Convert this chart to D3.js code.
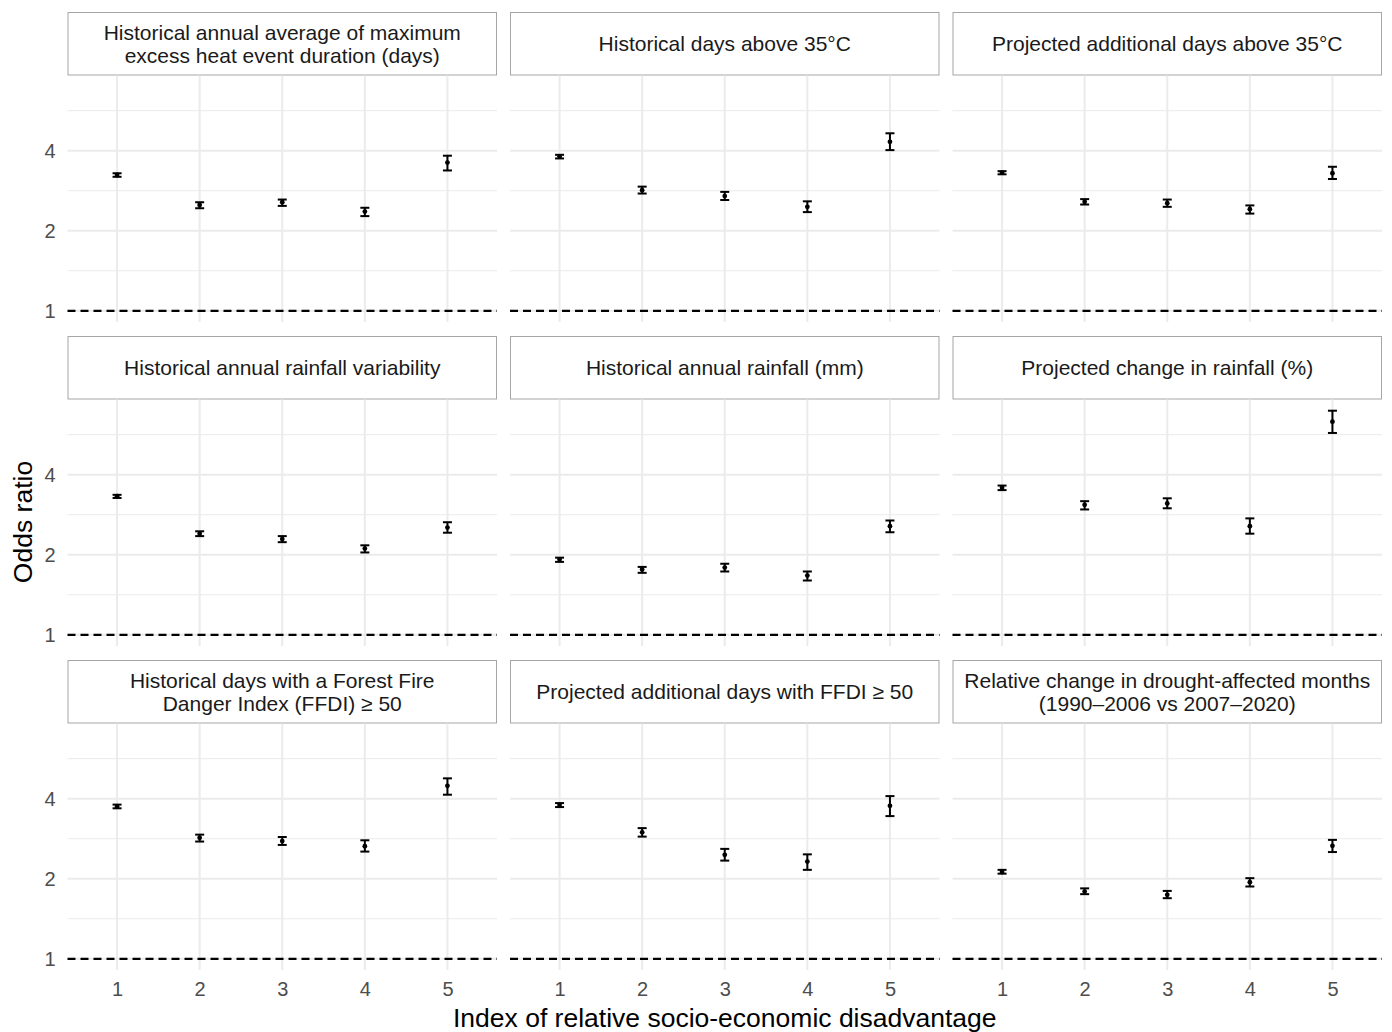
<!DOCTYPE html>
<html>
<head>
<meta charset="utf-8">
<script src="https://cdn.jsdelivr.net/npm/d3@7"></script>
<style>
  body { margin: 0; background: #fff; }
  svg { font-family: "Liberation Sans", Arial, sans-serif; }
</style>
</head>
<body>
<script>
// facet titles (one per panel, read left to right, top to bottom)
var panelTitles = [
  ["Historical annual average of maximum", "excess heat event duration (days)"],
  ["Historical days above 35°C"],
  ["Projected additional days above 35°C"],
  ["Historical annual rainfall variability"],
  ["Historical annual rainfall (mm)"],
  ["Projected change in rainfall (%)"],
  ["Historical days with a Forest Fire", "Danger Index (FFDI) ≥ 50"],
  ["Projected additional days with FFDI ≥ 50"],
  ["Relative change in drought-affected months", "(1990–2006 vs 2007–2020)"]
];

// disadvantage quintiles
var quintiles = ["1", "2", "3", "4", "5"];

// odds ratios, one row per panel
var orEst = [
  [3.24, 2.50, 2.56, 2.36, 3.61],
  [3.81, 2.84, 2.70, 2.46, 4.32],
  [3.31, 2.57, 2.54, 2.41, 3.29],
  [3.32, 2.40, 2.29, 2.11, 2.53],
  [1.92, 1.76, 1.79, 1.67, 2.56],
  [3.57, 3.08, 3.12, 2.56, 6.33],
  [3.74, 2.85, 2.77, 2.65, 4.47],
  [3.79, 2.99, 2.46, 2.32, 3.76],
  [2.12, 1.79, 1.74, 1.94, 2.66]
];
var orLow = [
  [3.19, 2.43, 2.48, 2.27, 3.37],
  [3.74, 2.76, 2.61, 2.35, 4.02],
  [3.26, 2.51, 2.46, 2.32, 3.13],
  [3.27, 2.35, 2.23, 2.04, 2.42],
  [1.88, 1.71, 1.73, 1.60, 2.43],
  [3.50, 2.96, 2.99, 2.40, 5.74],
  [3.68, 2.76, 2.68, 2.53, 4.14],
  [3.72, 2.88, 2.34, 2.16, 3.44],
  [2.09, 1.75, 1.69, 1.87, 2.52]
];
var orHigh = [
  [3.29, 2.56, 2.62, 2.44, 3.83],
  [3.86, 2.93, 2.80, 2.58, 4.65],
  [3.35, 2.63, 2.62, 2.49, 3.48],
  [3.36, 2.45, 2.35, 2.17, 2.65],
  [1.95, 1.80, 1.85, 1.73, 2.69],
  [3.64, 3.18, 3.26, 2.74, 6.96],
  [3.80, 2.93, 2.87, 2.79, 4.77],
  [3.85, 3.10, 2.59, 2.47, 4.09],
  [2.16, 1.84, 1.80, 2.01, 2.80]
];

// y axis breaks
var yTicks = [1, 2, 4];
var refLine = 1;

// layout
var W = 1392, H = 1032;
var panelLeft = [67.5, 510, 952.5];
var panelW = 429.5;
var stripTop = [12, 336, 660];
var stripH = 63.5;
var panelH = 246.5;

var svg = d3.select("body").append("svg")
    .attr("width", W)
    .attr("height", H);

// shared y scale (log2, 5% expansion like ggplot)
var allHigh = d3.max(orHigh, function(r) { return d3.max(r); });
var lo = Math.log2(refLine), hi = Math.log2(allHigh);
var pad = (hi - lo) * 0.05;
var y = d3.scaleLog().base(2)
    .domain([Math.pow(2, lo - pad), Math.pow(2, hi + pad)])
    .range([panelH, 0]);

// minor breaks halfway between majors in log space
var minorTicks = [];
for (var i = 0; i < yTicks.length; i++) {
  var m = yTicks[i] * Math.SQRT2;
  if (m <= y.domain()[1]) minorTicks.push(m);
}

var x = d3.scalePoint().domain(quintiles)
    .range([panelW * 0.6 / 5.2, panelW - panelW * 0.6 / 5.2]);

panelTitles.forEach(function(title, p) {
  var col = p % 3, row = Math.floor(p / 3);
  var g = svg.append("g")
      .attr("transform", "translate(" + panelLeft[col] + "," + stripTop[row] + ")");

  // strip
  g.append("rect")
      .attr("x", 0.5).attr("y", 0.5)
      .attr("width", panelW - 1).attr("height", stripH - 1)
      .style("fill", "#fff")
      .style("stroke", "#a6a6a6")
      .style("stroke-width", 1);

  var st = g.append("text")
      .attr("x", panelW / 2)
      .attr("text-anchor", "middle")
      .style("font-size", "21px")
      .style("fill", "#1a1a1a");
  title.forEach(function(line, j) {
    st.append("tspan")
        .attr("x", panelW / 2)
        .attr("y", stripH / 2 + 7.5 + (j - (title.length - 1) / 2) * 23)
        .text(line);
  });

  var pg = g.append("g").attr("transform", "translate(0," + stripH + ")");

  // grid
  pg.selectAll(".minor").data(minorTicks).enter().append("line")
      .attr("x1", 0).attr("x2", panelW)
      .attr("y1", function(d) { return y(d); })
      .attr("y2", function(d) { return y(d); })
      .style("stroke", "#ebebeb").style("stroke-width", 1);

  pg.selectAll(".major").data(yTicks).enter().append("line")
      .attr("x1", 0).attr("x2", panelW)
      .attr("y1", function(d) { return y(d); })
      .attr("y2", function(d) { return y(d); })
      .style("stroke", "#ebebeb").style("stroke-width", 2);

  pg.selectAll(".vgrid").data(quintiles).enter().append("line")
      .attr("x1", function(d) { return x(d); })
      .attr("x2", function(d) { return x(d); })
      .attr("y1", 0).attr("y2", panelH)
      .style("stroke", "#ebebeb").style("stroke-width", 2);

  // reference line at OR = 1
  pg.append("line")
      .attr("x1", 0).attr("x2", panelW)
      .attr("y1", y(refLine)).attr("y2", y(refLine))
      .style("stroke", "#000")
      .style("stroke-width", 2.2)
      .style("stroke-dasharray", "8,5");

  // error bars
  var bars = pg.selectAll(".eb").data(quintiles).enter().append("g");
  bars.append("line")
      .attr("x1", function(d) { return x(d); })
      .attr("x2", function(d) { return x(d); })
      .attr("y1", function(d, i) { return y(orLow[p][i]); })
      .attr("y2", function(d, i) { return y(orHigh[p][i]); })
      .style("stroke", "#000").style("stroke-width", 2);
  bars.append("line")
      .attr("x1", function(d) { return x(d) - 4.5; })
      .attr("x2", function(d) { return x(d) + 4.5; })
      .attr("y1", function(d, i) { return y(orLow[p][i]); })
      .attr("y2", function(d, i) { return y(orLow[p][i]); })
      .style("stroke", "#000").style("stroke-width", 2);
  bars.append("line")
      .attr("x1", function(d) { return x(d) - 4.5; })
      .attr("x2", function(d) { return x(d) + 4.5; })
      .attr("y1", function(d, i) { return y(orHigh[p][i]); })
      .attr("y2", function(d, i) { return y(orHigh[p][i]); })
      .style("stroke", "#000").style("stroke-width", 2);
  bars.append("circle")
      .attr("cx", function(d) { return x(d); })
      .attr("cy", function(d, i) { return y(orEst[p][i]); })
      .attr("r", 2.4)
      .style("fill", "#000");

  // axes on outer panels only
  if (col == 0) {
    var ya = pg.append("g")
        .call(d3.axisLeft(y).tickValues(yTicks).tickFormat(d3.format("d")).tickSize(0).tickPadding(12));
    ya.select(".domain").remove();
    ya.selectAll("text").style("font-size", "20px").style("fill", "#4d4d4d")
        .style("font-family", "Liberation Sans, Arial, sans-serif");
  }
  if (row == 2) {
    var xa = pg.append("g").attr("transform", "translate(0," + panelH + ")")
        .call(d3.axisBottom(x).tickSize(0).tickPadding(12));
    xa.select(".domain").remove();
    xa.selectAll("text").style("font-size", "20px").style("fill", "#4d4d4d")
        .style("font-family", "Liberation Sans, Arial, sans-serif");
  }
});

// axis titles
svg.append("text")
    .attr("x", (panelLeft[0] + panelLeft[2] + panelW) / 2)
    .attr("y", 1027)
    .attr("text-anchor", "middle")
    .style("font-size", "26.5px")
    .style("fill", "#000")
    .text("Index of relative socio-economic disadvantage");

svg.append("text")
    .attr("transform", "translate(32,522) rotate(-90)")
    .attr("text-anchor", "middle")
    .style("font-size", "26.5px")
    .style("fill", "#000")
    .text("Odds ratio");
</script>
</body>
</html>
